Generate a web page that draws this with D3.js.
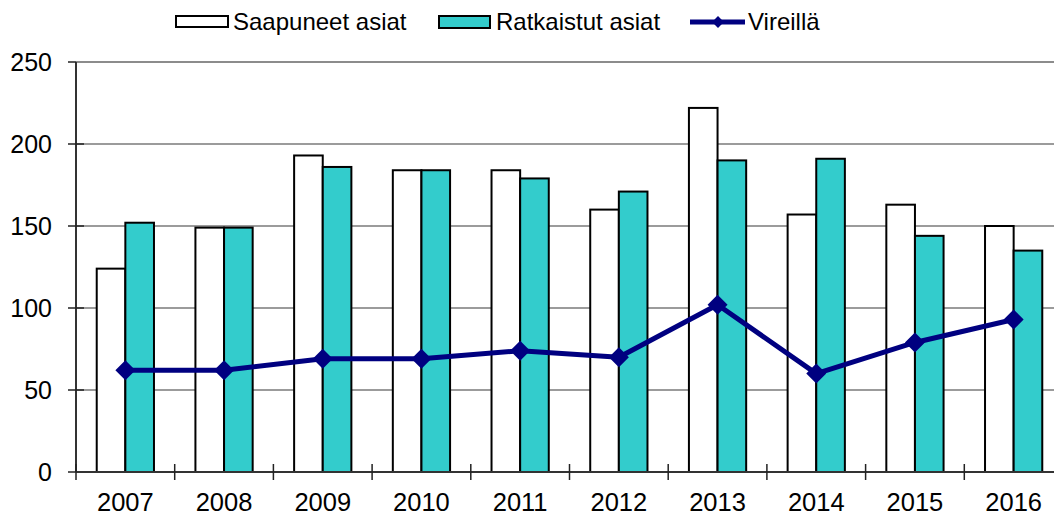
<!DOCTYPE html>
<html>
<head>
<meta charset="utf-8">
<script src="https://cdn.jsdelivr.net/npm/d3@7"></script>
<style>
  body { margin: 0; background: #fff; }
  svg { display: block; font-family: "Liberation Sans", Arial, sans-serif; }
</style>
</head>
<body>
<div id="chart"></div>
<script>
const years = ["2007", "2008", "2009", "2010", "2011", "2012", "2013", "2014", "2015", "2016"];
const saapuneet = [124, 149, 193, 184, 184, 160, 222, 157, 163, 150];
const ratkaistut = [152, 149, 186, 184, 179, 171, 190, 191, 144, 135];
const vireilla = [62, 62, 69, 69, 74, 70, 102, 60, 79, 93];
const yTicks = [0, 50, 100, 150, 200, 250];

const width = 1054, height = 515;
const plotLeft = 76, plotRight = 1063, plotTop = 62, plotBottom = 472;

const svg = d3.select("#chart").append("svg")
  .attr("width", width)
  .attr("height", height);

const x = d3.scaleBand().domain(years).range([plotLeft, plotRight]).padding(0);
const bw = x.bandwidth();
const xs = d3.scaleBand().domain(["s", "r"]).range([bw * 0.21, bw * 0.79]);
const y = d3.scaleLinear().domain([0, 250]).range([plotBottom, plotTop]);

// gridlines
svg.append("g")
  .selectAll("line")
  .data(yTicks.filter(d => d > 0))
  .enter()
  .append("line")
  .attr("x1", plotLeft).attr("x2", plotRight)
  .attr("y1", d => y(d)).attr("y2", d => y(d))
  .attr("stroke", d => d === 250 ? "#8c8c8c" : "#7a7a7a")
  .attr("stroke-width", d => d === 250 ? 2 : 1.5);

// bars
const groups = svg.append("g")
  .selectAll("g")
  .data(years)
  .enter()
  .append("g")
  .attr("transform", d => "translate(" + x(d) + ",0)");

groups.append("rect")
  .attr("x", xs("s"))
  .attr("width", xs.bandwidth())
  .attr("y", (d, i) => y(saapuneet[i]))
  .attr("height", (d, i) => plotBottom - y(saapuneet[i]))
  .attr("fill", "#ffffff")
  .attr("stroke", "#000")
  .attr("stroke-width", 2);

groups.append("rect")
  .attr("x", xs("r"))
  .attr("width", xs.bandwidth())
  .attr("y", (d, i) => y(ratkaistut[i]))
  .attr("height", (d, i) => plotBottom - y(ratkaistut[i]))
  .attr("fill", "#33cccc")
  .attr("stroke", "#000")
  .attr("stroke-width", 2);

// axes
const yAxis = svg.append("g").attr("transform", "translate(" + plotLeft + ",0)");
yAxis.append("line")
  .attr("x1", 0).attr("x2", 0).attr("y1", plotTop).attr("y2", plotBottom)
  .attr("stroke", "#333").attr("stroke-width", 2);
yAxis.selectAll(".tick")
  .data(yTicks)
  .enter()
  .append("line")
  .attr("x1", -8).attr("x2", d => d === 250 ? 0 : 8)
  .attr("y1", d => y(d)).attr("y2", d => y(d))
  .attr("stroke", "#222").attr("stroke-width", 1.5);
yAxis.selectAll("text")
  .data(yTicks)
  .enter()
  .append("text")
  .attr("x", -24)
  .attr("y", d => y(d))
  .attr("dy", "0.36em")
  .attr("text-anchor", "end")
  .style("font-size", "25px")
  .text(d => d);

const xAxis = svg.append("g");
xAxis.append("line")
  .attr("x1", plotLeft).attr("x2", plotRight).attr("y1", plotBottom).attr("y2", plotBottom)
  .attr("stroke", "#333").attr("stroke-width", 2);
xAxis.selectAll(".tick")
  .data(years)
  .enter()
  .append("line")
  .attr("x1", d => x(d)).attr("x2", d => x(d))
  .attr("y1", plotBottom - 8).attr("y2", plotBottom + 8)
  .attr("stroke", "#222").attr("stroke-width", 1.5);
xAxis.selectAll("text")
  .data(years)
  .enter()
  .append("text")
  .attr("x", d => x(d) + bw / 2)
  .attr("y", 511)
  .attr("text-anchor", "middle")
  .style("font-size", "25.5px")
  .text(d => d);

// line series
const line = d3.line()
  .x((d, i) => x(years[i]) + bw / 2)
  .y(d => y(d));

svg.append("path")
  .datum(vireilla)
  .attr("d", line)
  .attr("fill", "none")
  .attr("stroke", "#000080")
  .attr("stroke-width", 5)
  .attr("stroke-linejoin", "round");

const diamond = d3.symbol().type(d3.symbolSquare).size(200);
svg.append("g")
  .selectAll("path")
  .data(vireilla)
  .enter()
  .append("path")
  .attr("d", diamond)
  .attr("transform", (d, i) => "translate(" + (x(years[i]) + bw / 2) + "," + y(d) + ") rotate(45)")
  .attr("fill", "#000080");

// legend
const legend = svg.append("g");
legend.append("rect")
  .attr("x", 176).attr("y", 16).attr("width", 52).attr("height", 11)
  .attr("fill", "#fff").attr("stroke", "#000").attr("stroke-width", 2);
legend.append("text")
  .attr("x", 233).attr("y", 30)
  .style("font-size", "24px")
  .text("Saapuneet asiat");

legend.append("rect")
  .attr("x", 439).attr("y", 16).attr("width", 51).attr("height", 12)
  .attr("fill", "#33cccc").attr("stroke", "#000").attr("stroke-width", 2);
legend.append("text")
  .attr("x", 496).attr("y", 30)
  .style("font-size", "24px")
  .text("Ratkaistut asiat");

legend.append("line")
  .attr("x1", 690).attr("x2", 745).attr("y1", 22).attr("y2", 22)
  .attr("stroke", "#000080").attr("stroke-width", 5);
legend.append("path")
  .attr("d", d3.symbol().type(d3.symbolSquare).size(70))
  .attr("transform", "translate(718,22) rotate(45)")
  .attr("fill", "#000080");
legend.append("text")
  .attr("x", 748).attr("y", 30)
  .style("font-size", "24px")
  .text("Vireillä");
</script>
</body>
</html>
